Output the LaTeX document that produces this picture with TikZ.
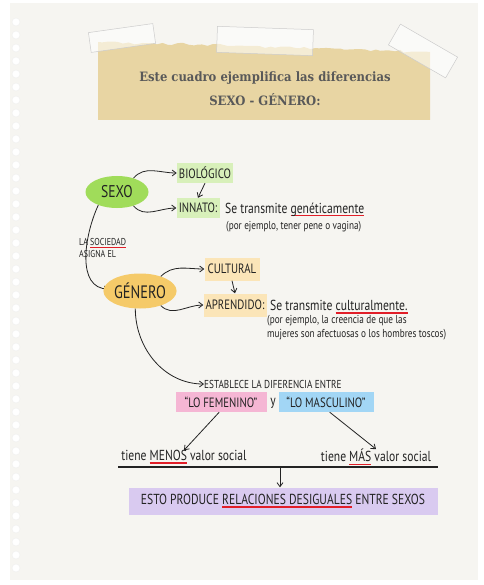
\documentclass[tikz,border=0pt]{standalone}
\usepackage{fontspec}
\setmainfont{DejaVu Serif}
\newfontfamily\hand[FakeStretch=0.8]{PT Sans}
\newfontfamily\typew[FakeStretch=0.9]{DejaVu Serif}
\usetikzlibrary{shapes.geometric,arrows.meta,decorations.pathmorphing}

\definecolor{paper}{RGB}{246,245,241}
\definecolor{notetan}{RGB}{232,213,163}
\definecolor{sexogreen}{RGB}{160,220,90}
\definecolor{biogreen}{RGB}{216,240,186}
\definecolor{generoorange}{RGB}{245,202,105}
\definecolor{cultorange}{RGB}{251,229,184}
\definecolor{fempink}{RGB}{245,182,212}
\definecolor{mascblue}{RGB}{162,214,245}
\definecolor{resultpurple}{RGB}{217,202,240}
\definecolor{ulred}{RGB}{225,30,40}
\definecolor{ink}{RGB}{35,35,35}

\newcommand\redul[1]{\setbox0\hbox{#1}\rlap{\color{ulred}\rule[-2.8pt]{\wd0}{1.1pt}}\box0\relax}

\tikzset{
  oval/.style={ellipse, minimum width=63pt, minimum height=32pt, inner sep=0pt, text=ink,
    font=\hand\fontsize{17}{17}\selectfont},
  tagbox/.style={rectangle, minimum height=20pt, inner xsep=2pt, text=ink,
    font=\hand\fontsize{13.5}{13.5}\selectfont},
  note/.style={text=ink, inner sep=0pt, font=\hand\fontsize{14.5}{14.5}\selectfont},
  smallnote/.style={text=ink, inner sep=0pt, align=left, font=\hand\fontsize{11.5}{14}\selectfont},
  arr/.style={-{Straight Barb[length=4pt,width=6pt]}, line width=0.8pt, draw=ink},
  tape/.style={fill=white, fill opacity=0.55, draw=gray!40, line width=0.5pt}
}

\begin{document}
\begin{tikzpicture}[x=1pt,y=-1pt]
  \useasboundingbox (0,0) rectangle (483,585);
  \fill[white] (0,0) rectangle (483,585);
  \fill[paper] (10,3) rectangle (478,580);
  \foreach \k in {0,...,42}
    \draw[black!6, fill=white] (16,22+13*\k) circle (4pt);

  % the torn note with the tapes
  \fill[notetan] (98,120) -- (98,42)
    decorate[decoration={random steps,segment length=5pt,amplitude=1.5pt}]{ -- (250,46) -- (430,52)}
    -- (430,120) -- cycle;
  \node[tape, minimum width=65pt, minimum height=20pt, rotate=8] at (122,38) {};
  \node[tape, minimum width=96pt, minimum height=26pt, rotate=-2] at (265,41) {};
  \node[tape, minimum width=66pt, minimum height=24pt, rotate=-30] at (423,51) {};
  \node[text=black!65, font=\typew\bfseries\fontsize{12.9}{12.9}\selectfont] (titulo1) at (265,78) {Este cuadro ejemplifica las diferencias};
  \node[text=black!65, font=\typew\bfseries\fontsize{12.9}{12.9}\selectfont] (titulo2) at (265,100) {SEXO - GÉNERO:};

  % sexo
  \node[oval, fill=sexogreen] (sexo) at (117,192) {SEXO};
  \node[tagbox, fill=biogreen, minimum width=55pt] (bio) at (205,173) {BIOLÓGICO};
  \node[tagbox, fill=biogreen, minimum width=43pt] (innato) at (198,208) {INNATO:};
  \node[note, anchor=west] (innatotxt) at (225,210) {Se transmite \redul{genéticamente}};
  \node[smallnote, anchor=west] (innatoej) at (226,227) {(por ejemplo, tener pene o vagina)};
  \draw[arr] (sexo.40) to[out=50,in=180] (bio.west);
  \draw[arr] (sexo.-40) to[out=-50,in=180] (innato.west);
  \draw[arr] (bio.south) -- (innato.north);

  \node[smallnote, anchor=west, font=\hand\fontsize{10}{12}\selectfont] (sociedad) at (79,248) {LA \redul{SOCIEDAD}\\ASIGNA EL};
  \draw[arr] (sexo.215) to[out=245,in=180] (109,289);

  % genero
  \node[oval, fill=generoorange, minimum height=35pt, font=\hand\fontsize{18}{18}\selectfont] (genero) at (140,291) {GÉNERO};
  \node[tagbox, fill=cultorange, minimum width=55pt, minimum height=23pt] (cultural) at (232,269) {CULTURAL};
  \node[tagbox, fill=cultorange, minimum width=63pt, minimum height=23pt] (aprendido) at (235,305) {APRENDIDO:};
  \node[note, anchor=west] (aprtxt) at (270,307) {Se transmite \redul{culturalmente.}};
  \node[smallnote, anchor=north west] (aprej) at (267,315) {(por ejemplo, la creencia de que las\\mujeres son afectuosas o los hombres toscos)};
  \draw[arr] (genero.35) to[out=45,in=180] (cultural.west);
  \draw[arr] (genero.-35) to[out=-45,in=180] (aprendido.west);
  \draw[arr] (cultural.south) -- (aprendido.north);

  % diferencia
  \node[smallnote, anchor=west] (estab) at (204,384) {ESTABLECE LA DIFERENCIA ENTRE};
  \draw[arr] (genero.255) to[out=270,in=180] (estab.west);
  \node[tagbox, fill=fempink, minimum width=91pt] (fem) at (221,402) {“LO FEMENINO”};
  \node[note] (ylabel) at (273,403) {y};
  \node[tagbox, fill=mascblue, minimum width=95pt] (masc) at (326,402) {“LO MASCULINO”};
  \node[note] (menos) at (184,457) {tiene \redul{MENOS} valor social};
  \node[note] (mas) at (376,457) {tiene \redul{MÁS} valor social};
  \draw[arr] (fem.-100) -- (menos.north);
  \draw[arr] (masc.-70) -- (mas.north);

  \coordinate (lineL) at (118,467);
  \coordinate (lineR) at (438,467);
  \coordinate (lineM) at (280,467);
  \draw[ink, line width=1.3pt] (lineL) -- (lineR);
  \node[tagbox, fill=resultpurple, minimum width=309pt, minimum height=27pt, font=\hand\fontsize{14.5}{14.5}\selectfont] (result) at (283,501) {ESTO PRODUCE \redul{RELACIONES DESIGUALES} ENTRE SEXOS};
  \draw[arr] (lineM) -- (lineM |- result.north);
\end{tikzpicture}
\end{document}
